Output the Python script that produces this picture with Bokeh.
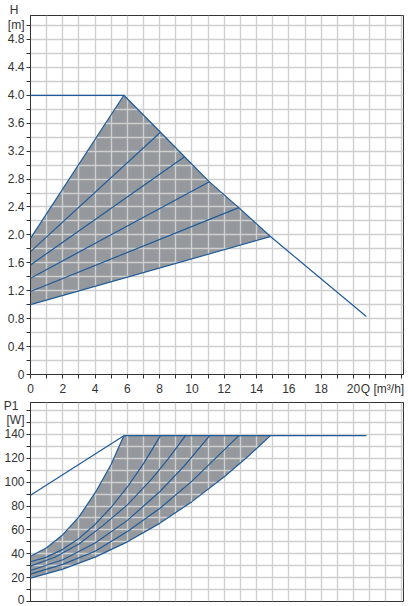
from bokeh.plotting import figure
from bokeh.models import FixedTicker, Range1d, Grid
from bokeh.layouts import column
from bokeh.embed import file_html
from bokeh.resources import INLINE

# ---------------- data: head chart (H [m] vs Q [m3/h]) ----------------
h_max_q = [0, 5.78, 8.05, 9.54, 11.08, 12.9, 14.86, 20.8]
h_max_h = [4.0, 4.0, 3.47, 3.12, 2.76, 2.39, 1.976, 0.83]
h_min_q = [0, 14.86]
h_min_h = [1.0, 1.976]
h_mid_start = [1.19, 1.38, 1.57, 1.76, 1.95]
h_mid_end_q = [12.9, 11.08, 9.54, 8.05, 5.78]
h_mid_end_h = [2.39, 2.76, 3.12, 3.47, 4.0]

h_yticks = [0, 0.4, 0.8, 1.2, 1.6, 2.0, 2.4, 2.8, 3.2, 3.6, 4.0, 4.4, 4.8]
h_yminor = [0, 0.2, 0.4, 0.6, 0.8, 1.0, 1.2, 1.4, 1.6, 1.8, 2.0, 2.2, 2.4, 2.6,
            2.8, 3.0, 3.2, 3.4, 3.6, 3.8, 4.0, 4.2, 4.4, 4.6, 4.8, 5.0]
h_title_pos = 5.114
h_title = "H\u2002\n[m]"
q_ticks = [0, 2, 4, 6, 8, 10, 12, 14, 16, 18, 20]
q_minor = list(range(0, 24))
q_title_pos = 21.8
q_title = "Q [m³/h]"

# ---------------- data: power chart (P1 [W] vs Q [m3/h]) ----------------
p_max_q = [0, 5.78, 20.8]
p_max_p = [89, 139, 139]
p_c1_q = [0, 1, 2, 3, 4, 5, 5.78]
p_c1_p = [38, 45, 56, 71, 91, 115, 139]
p_c2_q = [0, 1, 2, 3, 4, 5, 6, 7, 8.05]
p_c2_p = [33.3, 37.2, 43.7, 52.9, 64.6, 79.0, 96.0, 115.6, 139]
p_c3_q = [0, 1.5, 3, 4.5, 6, 7.5, 8.5, 9.6]
p_c3_p = [29.6, 37.1, 48.2, 63.8, 81.0, 102.6, 119.1, 139]
p_c4_q = [0, 2, 4, 6, 8, 9.5, 11.1]
p_c4_p = [26, 35, 49, 68, 92, 113.3, 139]
p_c5_q = [0, 2, 4, 6, 8, 10, 11.5, 12.9]
p_c5_p = [22.9, 31.1, 42.1, 58.7, 77.9, 100.9, 120.6, 139]
p_c6_q = [0, 2, 4, 6, 8, 10, 12, 13.5, 14.86]
p_c6_p = [19.6, 27.1, 37.2, 50, 65.5, 83.7, 104.5, 122.0, 139]

p_yticks = [0, 20, 40, 60, 80, 100, 120, 140]
p_yminor = list(range(0, 170, 10))
p_title_pos = 160.2
p_title = "P1\u2002\n[W]"

LINE = "#1f5a99"
FILL = "#95999d"
GRID = "#cfcfcf"
TXT = "#333333"
FONT = "Liberation Sans"


def style_axis(ax, ticks, minor, overrides, standoff, lh):
    ax.ticker = FixedTicker(ticks=ticks, minor_ticks=minor)
    ax.axis_line_color = TXT
    ax.major_tick_line_color = None
    ax.major_tick_in = 0
    ax.major_tick_out = 0
    ax.minor_tick_line_color = TXT
    ax.minor_tick_in = 0
    ax.minor_tick_out = 4
    ax.major_label_standoff = standoff
    ax.major_label_text_font = FONT
    ax.major_label_text_font_size = "12px"
    ax.major_label_text_color = TXT
    ax.major_label_text_line_height = lh
    ax.major_label_overrides = overrides


def base(p):
    p.outline_line_color = TXT
    p.outline_line_width = 1
    p.background_fill_color = "white"
    p.border_fill_color = "white"
    for g in p.grid:
        g.visible = False


# ---------------- top figure ----------------
p1 = figure(width=413, height=398, output_backend="svg", toolbar_location=None,
            x_range=Range1d(0, 23.1), y_range=Range1d(0, 5.143),
            min_border_left=30, min_border_right=10, min_border_top=15,
            min_border_bottom=23)
base(p1)
ovr = {float(v): ("0" if v == 0 else f"{v:.1f}") for v in h_yticks}
ovr[h_title_pos] = h_title
style_axis(p1.yaxis[0], h_yticks + [h_title_pos], h_yminor, ovr, 2, 1.05)
xovr = {float(v): str(v) for v in q_ticks}
xovr[q_title_pos] = q_title
style_axis(p1.xaxis[0], q_ticks + [q_title_pos], q_minor, xovr, 3, 1.0)

p1.add_layout(Grid(dimension=0, ticker=FixedTicker(ticks=q_minor),
                   grid_line_color=GRID, grid_line_width=1.4, level="glyph"), "center")
p1.add_layout(Grid(dimension=1, ticker=FixedTicker(ticks=h_yminor),
                   grid_line_color=GRID, grid_line_width=1.4, level="glyph"), "center")

poly_q = h_min_q + h_max_q[-2:0:-1] + [0]
poly_h = h_min_h + h_max_h[-2:0:-1] + [h_mid_start[-1]]
p1.patch(poly_q, poly_h, fill_color=FILL, line_color=None, level="underlay")
p1.line(h_max_q, h_max_h, line_color=LINE, line_width=1.2, level="overlay")
p1.line(h_min_q, h_min_h, line_color=LINE, line_width=1.2, level="overlay")
for hs, qe, he in zip(h_mid_start, h_mid_end_q, h_mid_end_h):
    p1.line([0, qe], [hs, he], line_color=LINE, line_width=1.2, level="overlay")

# ---------------- bottom figure ----------------
p2 = figure(width=413, height=208, output_backend="svg", toolbar_location=None,
            x_range=Range1d(0, 23.1), y_range=Range1d(0, 166.8),
            x_axis_location=None,
            min_border_left=30, min_border_right=10, min_border_top=4,
            min_border_bottom=5)
base(p2)
povr = {float(v): str(v) for v in p_yticks}
povr[p_title_pos] = p_title
style_axis(p2.yaxis[0], p_yticks + [p_title_pos], p_yminor, povr, 2, 1.0)
p2.add_layout(Grid(dimension=0, ticker=FixedTicker(ticks=q_minor),
                   grid_line_color=GRID, grid_line_width=1.4, level="glyph"), "center")
p2.add_layout(Grid(dimension=1, ticker=FixedTicker(ticks=p_yminor),
                   grid_line_color=GRID, grid_line_width=1.4, level="glyph"), "center")

ppoly_q = p_c6_q + p_c1_q[::-1]
ppoly_p = p_c6_p + p_c1_p[::-1]
p2.patch(ppoly_q, ppoly_p, fill_color=FILL, line_color=None, level="underlay")
p2.line(p_max_q, p_max_p, line_color=LINE, line_width=1.2, level="overlay")
for cq, cp in [(p_c1_q, p_c1_p), (p_c2_q, p_c2_p), (p_c3_q, p_c3_p),
               (p_c4_q, p_c4_p), (p_c5_q, p_c5_p), (p_c6_q, p_c6_p)]:
    p2.line(cq, cp, line_color=LINE, line_width=1.2, level="overlay")

layout = column(p1, p2, spacing=0)
open("out.html", "w").write(file_html(layout, INLINE))
